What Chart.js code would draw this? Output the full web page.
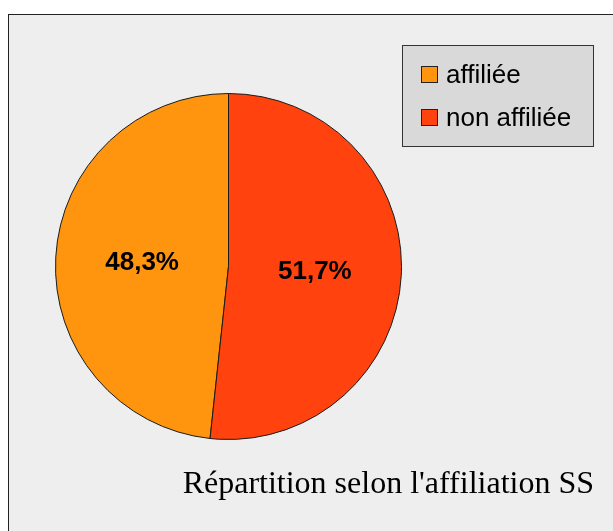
<!DOCTYPE html>
<html>
<head>
<meta charset="utf-8">
<script src="https://cdn.jsdelivr.net/npm/chart.js@4"></script>
<style>
  html, body { margin: 0; padding: 0; background: #ffffff; }
  #wrap { position: relative; width: 613px; height: 531px; overflow: hidden; }
  #frame { position: absolute; left: 8px; top: 14px; width: 700px; height: 600px;
           background: #eeeeee; border: 1px solid #222222; box-sizing: border-box; }
  canvas { position: absolute; left: 0; top: 0; }
</style>
</head>
<body>
<div id="wrap">
  <div id="frame"></div>
  <canvas id="c" width="613" height="531"></canvas>
</div>
<script>
const categories = ["affiliée", "non affiliée"];
const values = [48.3, 51.7];
const valueLabels = ["48,3%", "51,7%"];
const colors = ["#ff950e", "#ff420e"];
const chartTitle = "Répartition selon l'affiliation SS";

// rotation so that the second slice starts at 12 o'clock
const startAngle = values[1] / (values[0] + values[1]) * 360;

const overlay = {
  id: 'overlay',
  afterDatasetsDraw(chart) {
    const ctx = chart.ctx;
    const meta = chart.getDatasetMeta(0);
    ctx.save();
    // slice labels
    ctx.fillStyle = '#000';
    ctx.font = 'bold 26px "Liberation Sans", Arial, sans-serif';
    ctx.textAlign = 'center';
    ctx.textBaseline = 'middle';
    meta.data.forEach((arc, i) => {
      const p = arc.tooltipPosition();
      ctx.fillText(valueLabels[i], p.x, p.y + 1);
    });
    // legend box
    ctx.fillStyle = '#d9d9d9';
    ctx.fillRect(402.5, 45.5, 191, 101);
    ctx.strokeStyle = '#333';
    ctx.lineWidth = 1;
    ctx.strokeRect(402.5, 45.5, 191, 101);
    ctx.font = '26px "Liberation Sans", Arial, sans-serif';
    ctx.textAlign = 'left';
    ctx.textBaseline = 'alphabetic';
    categories.forEach((c, i) => {
      const y = 66 + i * 43;
      ctx.fillStyle = colors[i];
      ctx.fillRect(421.5, y + 0.5, 16, 16);
      ctx.strokeStyle = '#222';
      ctx.strokeRect(421.5, y + 0.5, 16, 16);
      ctx.fillStyle = '#000';
      ctx.fillText(c, 446, y + 17);
    });
    // title
    ctx.font = '32px "Liberation Serif", "Times New Roman", serif';
    ctx.textAlign = 'right';
    ctx.fillStyle = '#000';
    ctx.fillText(chartTitle, 594, 493);
    ctx.restore();
  }
};

new Chart(document.getElementById('c'), {
  type: 'pie',
  data: {
    labels: categories,
    datasets: [{
      data: values,
      backgroundColor: colors,
      borderColor: '#1a1a1a',
      borderWidth: 1
    }]
  },
  options: {
    responsive: false,
    animation: false,
    rotation: startAngle,
    layout: { padding: { left: 55, right: 211, top: 93, bottom: 91 } },
    plugins: {
      legend: { display: false },
      tooltip: { enabled: false },
      title: { display: false }
    }
  },
  plugins: [overlay]
});
</script>
</body>
</html>
